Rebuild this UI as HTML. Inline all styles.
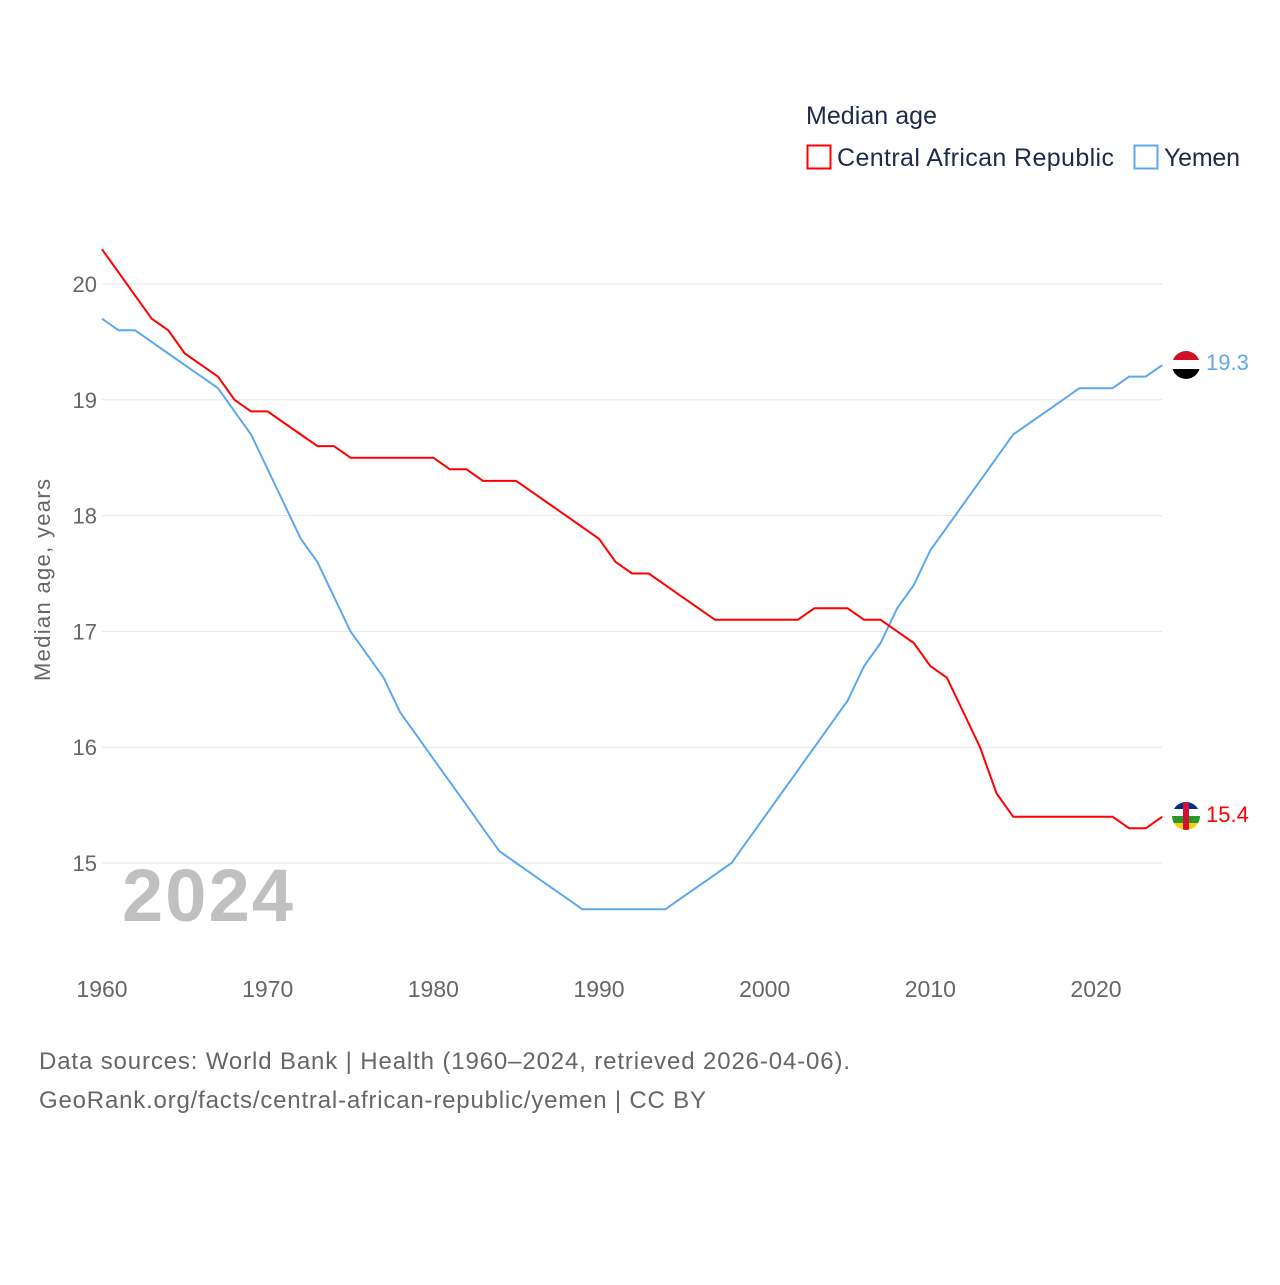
<!DOCTYPE html>
<html><head><meta charset="utf-8"><style>
body{margin:0;background:#fff;font-family:"Liberation Sans",sans-serif;}
svg text{font-family:"Liberation Sans",sans-serif;}
</style></head><body>
<svg width="1280" height="1280" viewBox="0 0 1280 1280" id="chart">
<defs>
<clipPath id="c1"><circle cx="1186" cy="365" r="14"/></clipPath>
<clipPath id="c2"><circle cx="1186" cy="816" r="14"/></clipPath>
</defs>
<text x="806" y="124" font-size="25" fill="#1d2a4a" textLength="131">Median age</text>
<g>
<rect x="807.5" y="145.5" width="23" height="23" fill="none" stroke="#ff0000" stroke-width="2"/>
<text x="837" y="166" font-size="25" fill="#1d2a4a" textLength="277">Central African Republic</text></g>
<g>
<rect x="1134.5" y="145.5" width="23" height="23" fill="none" stroke="#5ca8ee" stroke-width="2"/>
<text x="1164" y="166" font-size="25" fill="#1d2a4a" textLength="76">Yemen</text></g>
<text transform="translate(50,580) rotate(-90)" text-anchor="middle" font-size="22" fill="#666" textLength="202">Median age, years</text>
<text x="122" y="921" font-size="74" font-weight="bold" fill="#c0c0c0" textLength="171">2024</text>
<g id="grid"></g><g id="ticks"></g><g id="series"></g>
<g clip-path="url(#c1)">
<rect x="1172" y="351" width="28" height="10" fill="#ce1126"/><rect x="1172" y="360" width="28" height="10" fill="#fff"/><rect x="1172" y="369" width="28" height="10" fill="#000"/></g>
<g clip-path="url(#c2)">
<rect x="1172" y="802" width="28" height="8" fill="#003082"/><rect x="1172" y="809" width="28" height="7" fill="#fff"/><rect x="1172" y="816" width="28" height="7" fill="#289728"/><rect x="1172" y="823" width="28" height="8" fill="#ffce00"/><rect x="1183" y="802" width="6" height="28" fill="#d21034"/></g>
<text x="1206" y="370" font-size="22" fill="#5ca8ee">19.3</text>
<text x="1206" y="822" font-size="22" fill="#ff0000">15.4</text>
<text x="39" y="1069" font-size="24" fill="#666" textLength="811">Data sources: World Bank | Health (1960–2024, retrieved 2026-04-06).</text>
<text x="39" y="1108" font-size="24" fill="#666" textLength="667">GeoRank.org/facts/central-african-republic/yemen | CC BY</text>
</svg>
<script>
const years=[];for(let y=1960;y<=2024;y++)years.push(y);
const carValues=[20.3,20.1,19.9,19.7,19.6,19.4,19.3,19.2,19.0,18.9,18.9,18.8,18.7,18.6,18.6,18.5,18.5,18.5,18.5,18.5,18.5,18.4,18.4,18.3,18.3,18.3,18.2,18.1,18.0,17.9,17.8,17.6,17.5,17.5,17.4,17.3,17.2,17.1,17.1,17.1,17.1,17.1,17.1,17.2,17.2,17.2,17.1,17.1,17.0,16.9,16.7,16.6,16.3,16.0,15.6,15.4,15.4,15.4,15.4,15.4,15.4,15.4,15.3,15.3,15.4];
const yemenValues=[19.7,19.6,19.6,19.5,19.4,19.3,19.2,19.1,18.9,18.7,18.4,18.1,17.8,17.6,17.3,17.0,16.8,16.6,16.3,16.1,15.9,15.7,15.5,15.3,15.1,15.0,14.9,14.8,14.7,14.6,14.6,14.6,14.6,14.6,14.6,14.7,14.8,14.9,15.0,15.2,15.4,15.6,15.8,16.0,16.2,16.4,16.7,16.9,17.2,17.4,17.7,17.9,18.1,18.3,18.5,18.7,18.8,18.9,19.0,19.1,19.1,19.1,19.2,19.2,19.3];
const yTicks=[15,16,17,18,19,20];
const xTicks=[1960,1970,1980,1990,2000,2010,2020];
const NS="http://www.w3.org/2000/svg";
const xS=y=>102+(y-1960)*(994/60);
const yS=v=>863-(v-15)*115.8;
const grid=document.getElementById('grid'),ticks=document.getElementById('ticks'),ser=document.getElementById('series');
yTicks.forEach(t=>{
 const l=document.createElementNS(NS,'line');
 l.setAttribute('x1',102);l.setAttribute('x2',1162);l.setAttribute('y1',yS(t));l.setAttribute('y2',yS(t));
 l.setAttribute('stroke','#e6e6e6');l.setAttribute('stroke-width','1');
 
 
 grid.appendChild(l);
 const tx=document.createElementNS(NS,'text');
 tx.setAttribute('x',97);tx.setAttribute('y',yS(t)+8);tx.setAttribute('text-anchor','end');
 tx.setAttribute('font-size','22');tx.setAttribute('fill','#666');tx.textContent=t;
 
 
 ticks.appendChild(tx);
});
xTicks.forEach(t=>{
 const tx=document.createElementNS(NS,'text');
 tx.setAttribute('x',xS(t));tx.setAttribute('y',997);tx.setAttribute('text-anchor','middle');
 tx.setAttribute('font-size','23');tx.setAttribute('fill','#666');tx.textContent=t;
 
 
 ticks.appendChild(tx);
});
function line(vals,color,name){
 const p=document.createElementNS(NS,'path');
 p.setAttribute('d',vals.map((v,i)=>(i?'L':'M')+xS(years[i]).toFixed(1)+','+yS(v).toFixed(1)).join(''));
 p.setAttribute('fill','none');p.setAttribute('stroke',color);p.setAttribute('stroke-width','2');p.setAttribute('stroke-linejoin','round');
 
 
 ser.appendChild(p);
}
line(yemenValues,'#5ca8ee','yemen-line');
line(carValues,'#ff0000','car-line');
</script>
</body></html>
